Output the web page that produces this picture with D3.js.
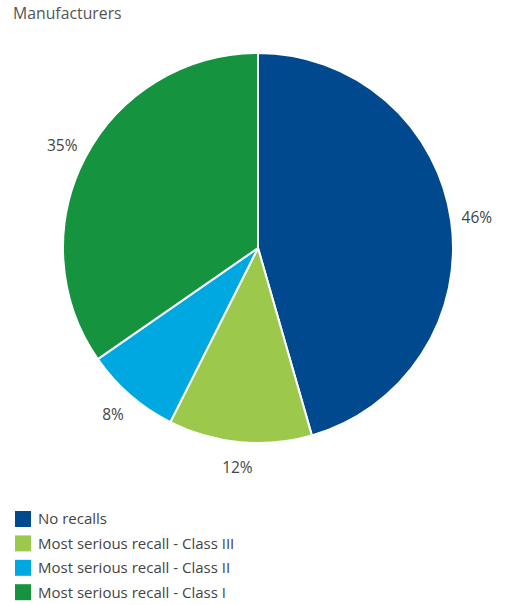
<!DOCTYPE html>
<html>
<head>
<meta charset="utf-8">
<script src="https://cdn.jsdelivr.net/npm/d3@7"></script>
<style>
  html, body { margin: 0; padding: 0; background: #fff; }
  svg { display: block; font-family: "Open Sans", "Noto Sans", sans-serif; }
</style>
</head>
<body>
<svg id="chart" width="506" height="605"></svg>
<script>
// Share of manufacturers by most serious recall class
const categories = ["No recalls", "Most serious recall - Class III", "Most serious recall - Class II", "Most serious recall - Class I"];
const shares = [46, 12, 8, 35];
const colors = ["#00498F", "#9CC94B", "#00A8E2", "#15933F"];
const title = "Manufacturers";

const svg = d3.select("#chart");
const cx = 258, cy = 248, radius = 195, labelRadius = 221;

svg.append("text")
  .attr("x", 13).attr("y", 19)
  .attr("font-size", 15.8).attr("fill", "#555")
  .text(title);

const pie = d3.pie().sort(null).value(d => d)(shares);
const arc = d3.arc().innerRadius(0).outerRadius(radius);
const labelArc = d3.arc().innerRadius(labelRadius).outerRadius(labelRadius);

const g = svg.append("g").attr("transform", `translate(${cx},${cy})`);

g.selectAll("path.slice")
  .data(pie)
  .join("path")
  .attr("class", "slice")
  .attr("d", arc)
  .attr("fill", (d, i) => colors[i])
  .attr("stroke", "#fff")
  .attr("stroke-width", 2);

g.selectAll("text.lbl")
  .data(pie)
  .join("text")
  .attr("class", "lbl")
  .attr("transform", d => `translate(${labelArc.centroid(d)})`)
  .attr("text-anchor", "middle")
  .attr("dy", "0.35em")
  .attr("font-size", 15.5)
  .attr("fill", "#444")
  .text(d => d.data + "%");

const legend = svg.append("g").attr("transform", "translate(15,511)");
const rowH = 24.4;
const rows = legend.selectAll("g")
  .data(categories)
  .join("g")
  .attr("transform", (d, i) => `translate(0,${i * rowH})`);
rows.append("rect")
  .attr("width", 16).attr("height", 16)
  .attr("fill", (d, i) => colors[i]);
rows.append("text")
  .attr("x", 23).attr("y", 8).attr("dy", "0.36em")
  .attr("font-size", 15).attr("fill", "#444")
  .text(d => d);
</script>
</body>
</html>
